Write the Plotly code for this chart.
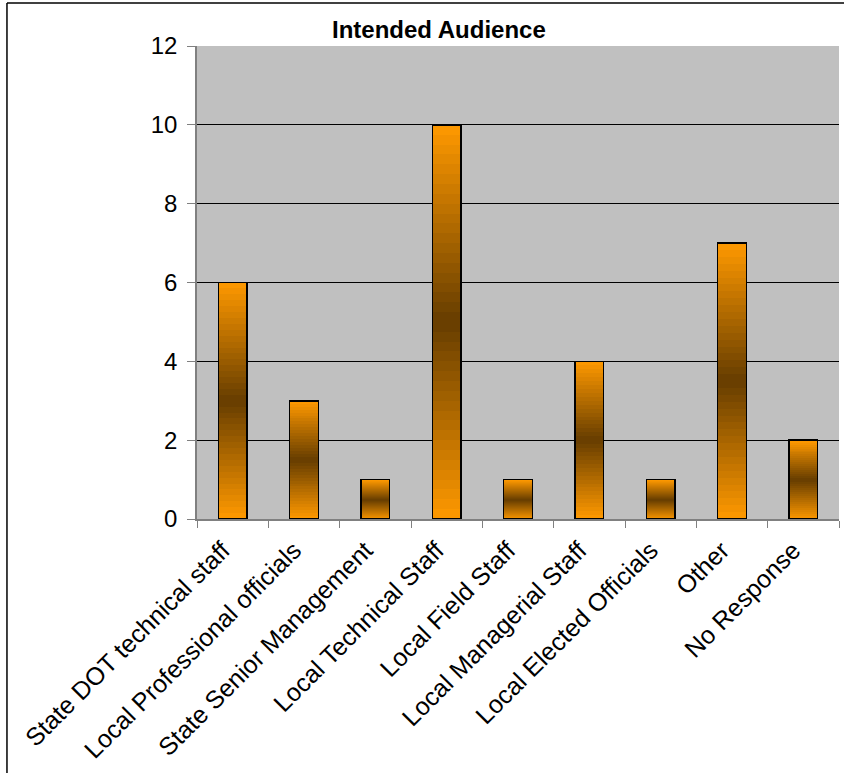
import plotly.graph_objects as go

categories = ["State DOT technical staff", "Local Professional officials", "State Senior Management",
              "Local Technical Staff", "Local Field Staff", "Local Managerial Staff",
              "Local Elected Officials", "Other", "No Response"]
counts = [6, 3, 1, 10, 1, 4, 1, 7, 2]
y_ticks = [0, 2, 4, 6, 8, 10, 12]

FONT = "Arial, Liberation Sans, sans-serif"
ORANGE = (255, 153, 0)
BROWN = (102, 61, 0)
N = 40

fig = go.Figure()
for i in range(N):
    t = (i + 0.5) / N
    f = abs(t - 0.5) * 2  # 0 at centre, 1 at edges
    c = tuple(round(BROWN[k] + (ORANGE[k] - BROWN[k]) * f) for k in range(3))
    fig.add_trace(go.Bar(
        x=categories, y=[v / N for v in counts],
        marker=dict(color="rgb(%d,%d,%d)" % c, line=dict(width=0)),
        hoverinfo="skip", showlegend=False))

fig.add_trace(go.Bar(
    x=categories, y=counts, xaxis="x2",
    marker=dict(color="rgba(0,0,0,0)", line=dict(color="black", width=1.5)),
    showlegend=False))

fig.update_layout(
    width=844, height=773,
    margin=dict(l=197, r=5, t=46, b=254),
    paper_bgcolor="white", plot_bgcolor="#C0C0C0",
    barmode="stack", bargap=0.6,
    font=dict(family=FONT, color="black"),
    title=dict(text="<b>Intended Audience</b>", x=0.52, xanchor="center",
               y=0.962, yanchor="middle", font=dict(size=24, family=FONT)),
    xaxis=dict(type="category", tickangle=-45, tickfont=dict(size=25),
               ticklabelshift=-10, ticklabelstandoff=5,
               showline=True, linecolor="#808080", linewidth=1.5,
               ticks="outside", ticklen=7, tickcolor="#808080", tickson="boundaries",
               showgrid=False),
    xaxis2=dict(type="category", overlaying="x", visible=False, matches="x"),
    yaxis=dict(range=[0, 12], tickvals=y_ticks, tickfont=dict(size=24),
               ticklabelstandoff=5,
               showline=True, linecolor="#808080", linewidth=1.5,
               ticks="outside", ticklen=8, tickcolor="#808080",
               showgrid=True, gridcolor="black", gridwidth=1, zeroline=False),
    shapes=[
        dict(type="line", xref="paper", yref="paper", x0=-0.296, x1=1.1, y0=1.091, y1=1.091,
             line=dict(color="black", width=1.5)),
        dict(type="line", xref="paper", yref="paper", x0=-0.296, x1=-0.296, y0=-0.6, y1=1.091,
             line=dict(color="black", width=1.5)),
    ],
)

fig.write_html("out.html", config={"displayModeBar": False},
               post_script="document.body.style.margin='0';document.body.style.overflow='hidden';")
